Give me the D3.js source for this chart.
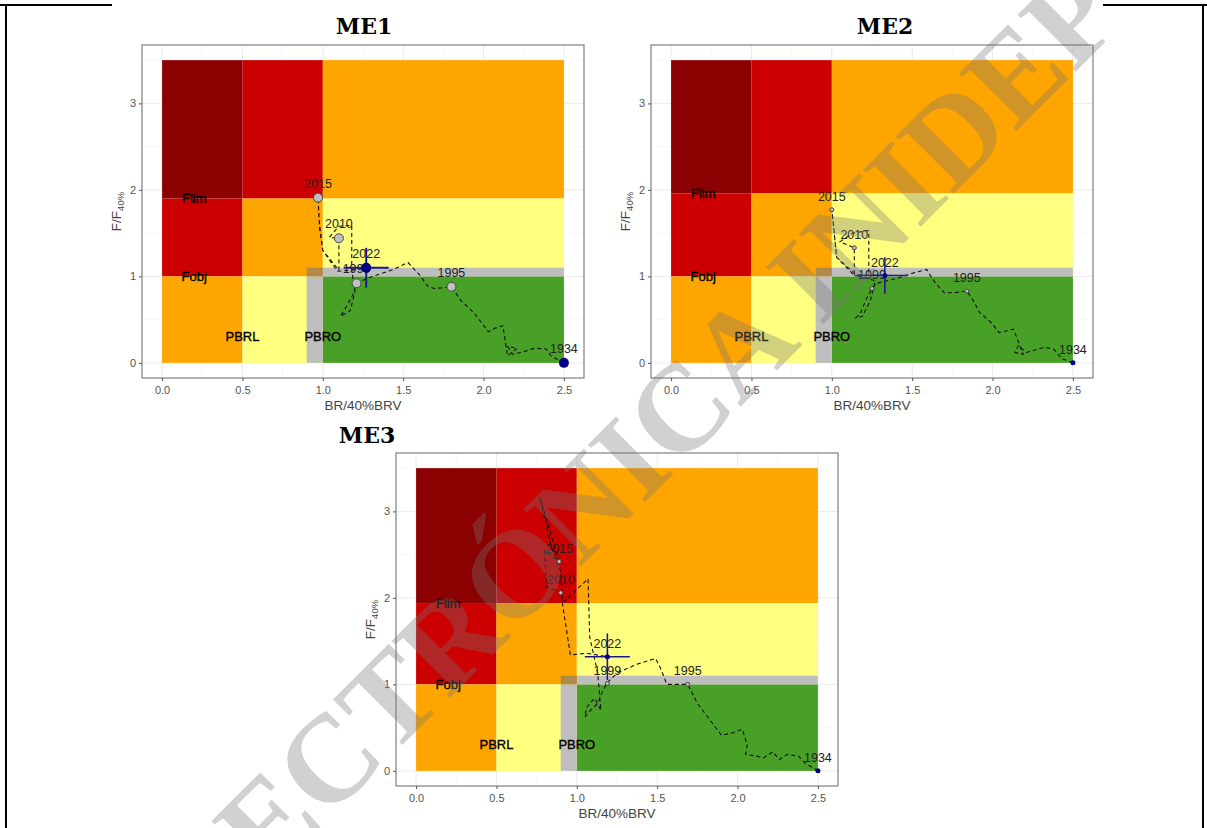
<!DOCTYPE html>
<html><head><meta charset="utf-8">
<script src="https://cdn.jsdelivr.net/npm/d3@7"></script>
<style>body{margin:0;background:#fff}svg{display:block}</style>
</head><body>
<script>
// ---------- data ----------
const panelNames = ["ME1", "ME2", "ME3"];
const xTicks = [0, 0.5, 1.0, 1.5, 2.0, 2.5];
const yTicks = [0, 1, 2, 3];
const xTickLabels = ["0.0", "0.5", "1.0", "1.5", "2.0", "2.5"];
const yTickLabels = ["0", "1", "2", "3"];
const flimValues = [1.90, 1.96, 1.94];
const zoneLabelNames = ["Flim", "Fobj", "PBRL", "PBRO"];

const yearLabels = ["1934", "1995", "1999", "2010", "2015", "2022"];
const me1YearBR = [2.50, 1.80, 1.21, 1.10, 0.97, 1.27];
const me1YearF  = [0.00, 0.88, 0.92, 1.44, 1.91, 1.10];
const me2YearBR = [2.50, 1.84, 1.25, 1.14, 1.00, 1.33];
const me2YearF  = [0.00, 0.83, 0.86, 1.33, 1.77, 1.01];
const me3YearBR = [2.50, 1.69, 1.19, 0.90, 0.89, 1.19];
const me3YearF  = [0.00, 1.00, 1.01, 2.06, 2.42, 1.32];

// 2022 uncertainty (BR low/high, F low/high)
const me1ErrBR = [1.13, 1.41], me1ErrF = [0.87, 1.33];
const me2ErrBR = [1.14, 1.47], me2ErrF = [0.80, 1.22];
const me3ErrBR = [1.05, 1.33], me3ErrF = [1.05, 1.59];

// trajectories (1934 -> 2022)
const me1PathBR = [2.50,2.42,2.39,2.32,2.27,2.23,2.18,2.15,2.21,2.15,2.12,2.07,2.03,1.94,1.86,1.80,1.76,1.69,1.65,1.61,1.53,1.44,1.36,1.28,1.21,1.19,1.15,1.11,1.17,1.20,1.18,1.18,1.10,1.04,1.10,1.10,1.00,0.98,0.97,0.98,1.00,1.09,1.18,1.27];
const me1PathF  = [0.00,0.08,0.16,0.17,0.14,0.12,0.10,0.19,0.17,0.08,0.43,0.40,0.36,0.58,0.72,0.88,0.87,0.86,0.89,1.00,1.16,1.08,1.03,0.98,0.92,0.80,0.66,0.54,0.60,0.82,1.07,1.59,1.58,1.45,1.44,1.07,1.30,1.55,1.91,1.60,1.30,1.06,1.07,1.10];
const me2PathBR = [2.50,2.43,2.38,2.32,2.25,2.21,2.16,2.14,2.19,2.13,2.04,1.99,1.92,1.88,1.84,1.76,1.70,1.65,1.62,1.59,1.49,1.41,1.28,1.25,1.21,1.18,1.15,1.19,1.24,1.27,1.15,1.23,1.23,1.13,1.05,1.14,1.14,1.03,1.02,1.00,1.01,1.03,1.15,1.33];
const me2PathF  = [0.00,0.05,0.16,0.18,0.14,0.12,0.20,0.12,0.10,0.39,0.35,0.47,0.58,0.72,0.83,0.81,0.81,0.91,0.99,1.08,1.03,0.98,0.92,0.86,0.72,0.58,0.52,0.54,0.72,0.95,1.01,1.01,1.53,1.50,1.40,1.33,1.01,1.22,1.41,1.77,1.60,1.22,1.02,1.01];
const me3PathBR = [2.50,2.42,2.38,2.31,2.26,2.22,2.16,2.12,2.05,2.06,2.03,1.97,1.90,1.82,1.75,1.69,1.63,1.56,1.52,1.49,1.37,1.25,1.19,1.16,1.13,1.09,1.05,1.06,1.11,1.15,1.13,1.08,1.07,0.91,0.90,0.81,0.80,0.89,0.77,0.84,0.90,0.91,0.96,1.06,1.19];
const me3PathF  = [0.00,0.09,0.17,0.19,0.13,0.22,0.15,0.17,0.19,0.30,0.48,0.44,0.41,0.61,0.78,1.00,1.00,1.00,1.19,1.30,1.23,1.13,1.02,0.92,0.78,0.71,0.62,0.73,0.84,0.70,1.13,1.55,2.22,1.94,2.06,2.13,2.54,2.42,3.16,2.60,2.30,1.94,1.34,1.36,1.32];

const watermarkText = "ELECTRÓNICA INIDEP";

// ---------- drawing ----------
const W = 1207, H = 828;
const svg = d3.select("body").append("svg").attr("width", W).attr("height", H);

// page frame lines
const frame = svg.append("g").attr("stroke", "#000").attr("stroke-width", 2);
frame.append("line").attr("x1", 0).attr("x2", 112).attr("y1", 5).attr("y2", 5);
frame.append("line").attr("x1", 1103).attr("x2", W).attr("y1", 5).attr("y2", 5);
frame.append("line").attr("x1", 6).attr("x2", 6).attr("y1", 4).attr("y2", H);
frame.append("line").attr("x1", 1203).attr("x2", 1203).attr("y1", 4).attr("y2", H);

const layouts = [
  {left: 142, top: 45, titleX: 364, titleY: 34},
  {left: 651, top: 45, titleX: 885, titleY: 34},
  {left: 396, top: 453, titleX: 367, titleY: 443}
];
const PW = 442, PH = 333;

const datasets = [
  {yBR: me1YearBR, yF: me1YearF, eBR: me1ErrBR, eF: me1ErrF, pBR: me1PathBR, pF: me1PathF, big: true},
  {yBR: me2YearBR, yF: me2YearF, eBR: me2ErrBR, eF: me2ErrF, pBR: me2PathBR, pF: me2PathF, big: false},
  {yBR: me3YearBR, yF: me3YearF, eBR: me3ErrBR, eF: me3ErrF, pBR: me3PathBR, pF: me3PathF, big: false}
];

const C = {dred: "#8b0000", red: "#cc0000", orange: "#ffa500", yellow: "#ffff80", green: "#48a027", gray: "#bebebe", corner: "#b08a48"};

panelNames.forEach((name, i) => {
  const L = layouts[i], D = datasets[i], flim = flimValues[i];
  const x = d3.scaleLinear().domain([-0.125, 2.625]).range([L.left, L.left + PW]);
  const y = d3.scaleLinear().domain([-0.175, 3.675]).range([L.top + PH, L.top]);
  const g = svg.append("g");

  // title
  g.append("text").attr("x", L.titleX).attr("y", L.titleY).attr("text-anchor", "middle")
    .attr("font-family", "DejaVu Serif").attr("font-weight", "bold").attr("font-size", 22)
    .attr("fill", "#000").text(name);

  // panel background + grid
  g.append("rect").attr("x", L.left).attr("y", L.top).attr("width", PW).attr("height", PH).attr("fill", "#fff");
  const minorX = [0.25, 0.75, 1.25, 1.75, 2.25], minorY = [0.5, 1.5, 2.5, 3.5];
  minorX.forEach(v => g.append("line").attr("x1", x(v)).attr("x2", x(v)).attr("y1", L.top).attr("y2", L.top + PH).attr("stroke", "#f4f4f4").attr("stroke-width", 0.6));
  minorY.forEach(v => g.append("line").attr("y1", y(v)).attr("y2", y(v)).attr("x1", L.left).attr("x2", L.left + PW).attr("stroke", "#f4f4f4").attr("stroke-width", 0.6));
  xTicks.forEach(v => g.append("line").attr("x1", x(v)).attr("x2", x(v)).attr("y1", L.top).attr("y2", L.top + PH).attr("stroke", "#ebebeb").attr("stroke-width", 1));
  yTicks.forEach(v => g.append("line").attr("y1", y(v)).attr("y2", y(v)).attr("x1", L.left).attr("x2", L.left + PW).attr("stroke", "#ebebeb").attr("stroke-width", 1));

  // zones
  const zones = [
    [0, 0.5, flim, 3.5, C.dred], [0.5, 1.0, flim, 3.5, C.red], [1.0, 2.5, flim, 3.5, C.orange],
    [0, 0.5, 1, flim, C.red], [0.5, 1.0, 1, flim, C.orange], [1.0, 2.5, 1, flim, C.yellow],
    [0, 0.5, 0, 1, C.orange], [0.5, 1.0, 0, 1, C.yellow], [1.0, 2.5, 0, 1, C.green],
    [0.9, 1.0, 0, 1.0, C.gray], [1.0, 2.5, 1.0, 1.1, C.gray], [0.9, 1.0, 1.0, 1.1, C.corner]
  ];
  g.selectAll("rect.zone").data(zones).join("rect").attr("class", "zone")
    .attr("x", d => x(d[0])).attr("width", d => x(d[1]) - x(d[0]))
    .attr("y", d => y(d[3])).attr("height", d => y(d[2]) - y(d[3]))
    .attr("fill", d => d[4]);

  // zone labels
  const zl = [[0.2, flim], [0.2, 1.0], [0.5, 0.3], [1.0, 0.3]];
  zl.forEach((p, k) => g.append("text").attr("x", x(p[0])).attr("y", y(p[1])).attr("dy", "0.35em")
    .attr("text-anchor", "middle").attr("font-family", "Liberation Sans").attr("font-size", 13)
    .attr("fill", "#000").attr("stroke", "#000").attr("stroke-width", 0.35).text(zoneLabelNames[k]));

  // panel border
  g.append("rect").attr("x", L.left).attr("y", L.top).attr("width", PW).attr("height", PH)
    .attr("fill", "none").attr("stroke", "#7f7f7f").attr("stroke-width", 1.2);

  // axes
  const xa = g.append("g").attr("transform", `translate(0,${L.top + PH})`)
    .call(d3.axisBottom(x).tickValues(xTicks).tickSize(3).tickFormat((d, k) => xTickLabels[k]));
  const ya = g.append("g").attr("transform", `translate(${L.left},0)`)
    .call(d3.axisLeft(y).tickValues(yTicks).tickSize(3).tickFormat((d, k) => yTickLabels[k]));
  [xa, ya].forEach(a => {
    a.select(".domain").remove();
    a.selectAll("line").attr("stroke", "#555");
    a.selectAll("text").attr("fill", "#555").attr("font-size", 11).attr("font-family", "Liberation Sans");
  });
  xa.selectAll("text").attr("dy", "0.9em");

  g.append("text").attr("x", L.left + PW / 2).attr("y", L.top + PH + 32).attr("text-anchor", "middle")
    .attr("font-family", "Liberation Sans").attr("font-size", 13.5).attr("fill", "#444").text("BR/40%BRV");
  const yt = g.append("text").attr("transform", `translate(${L.left - 21},${L.top + PH / 2}) rotate(-90)`)
    .attr("text-anchor", "middle").attr("font-family", "Liberation Sans").attr("font-size", 13.5).attr("fill", "#444");
  yt.append("tspan").text("F/F");
  yt.append("tspan").attr("font-size", 9.5).attr("dy", 3).text("40%");

  // trajectory
  const pts = D.pBR.map((v, k) => [v, D.pF[k]]);
  g.append("path").datum(pts).attr("d", d3.line().x(d => x(d[0])).y(d => y(d[1])))
    .attr("fill", "none").attr("stroke", "#111").attr("stroke-width", 1.1).attr("stroke-dasharray", "4,3");

  // labelled points
  const lab = yearLabels.map((t, k) => ({t, bx: D.yBR[k], f: D.yF[k]}));
  const rGray = D.big ? 4.5 : 2, rNavy = D.big ? 5 : 2.5;
  lab.filter(d => d.t !== "1934" && d.t !== "2022").forEach(d =>
    g.append("circle").attr("cx", x(d.bx)).attr("cy", y(d.f)).attr("r", rGray)
      .attr("fill", "#c0c0c0").attr("stroke", "#444").attr("stroke-width", 1));
  lab.forEach(d => g.append("text").attr("x", x(d.bx)).attr("y", y(d.f) - (D.big ? 10 : 9))
    .attr("text-anchor", "middle").attr("font-family", "Liberation Sans").attr("font-size", 12.5)
    .attr("fill", "#222").text(d.t));
  // first year point
  g.append("circle").attr("cx", x(lab[0].bx)).attr("cy", y(lab[0].f)).attr("r", rNavy).attr("fill", "#000080");
  // 2022 with error bars
  const last = lab[5];
  const ew = D.big ? 2 : 1.6;
  g.append("line").attr("x1", x(D.eBR[0])).attr("x2", x(D.eBR[1])).attr("y1", y(last.f)).attr("y2", y(last.f))
    .attr("stroke", "#1a1a8c").attr("stroke-width", ew);
  g.append("line").attr("x1", x(last.bx)).attr("x2", x(last.bx)).attr("y1", y(D.eF[0])).attr("y2", y(D.eF[1]))
    .attr("stroke", "#1a1a8c").attr("stroke-width", ew);
  g.append("circle").attr("cx", x(last.bx)).attr("cy", y(last.f)).attr("r", rNavy).attr("fill", "#000080");
});

// watermark
svg.append("text").attr("transform", "translate(608,478) rotate(-45)")
  .attr("text-anchor", "middle").attr("font-family", "Liberation Serif").attr("font-weight", "bold")
  .attr("font-size", 124).attr("fill", "#777").attr("opacity", 0.33)
  .attr("dy", "0.35em").text(watermarkText)
  .style("pointer-events", "none");
</script>
</body></html>
